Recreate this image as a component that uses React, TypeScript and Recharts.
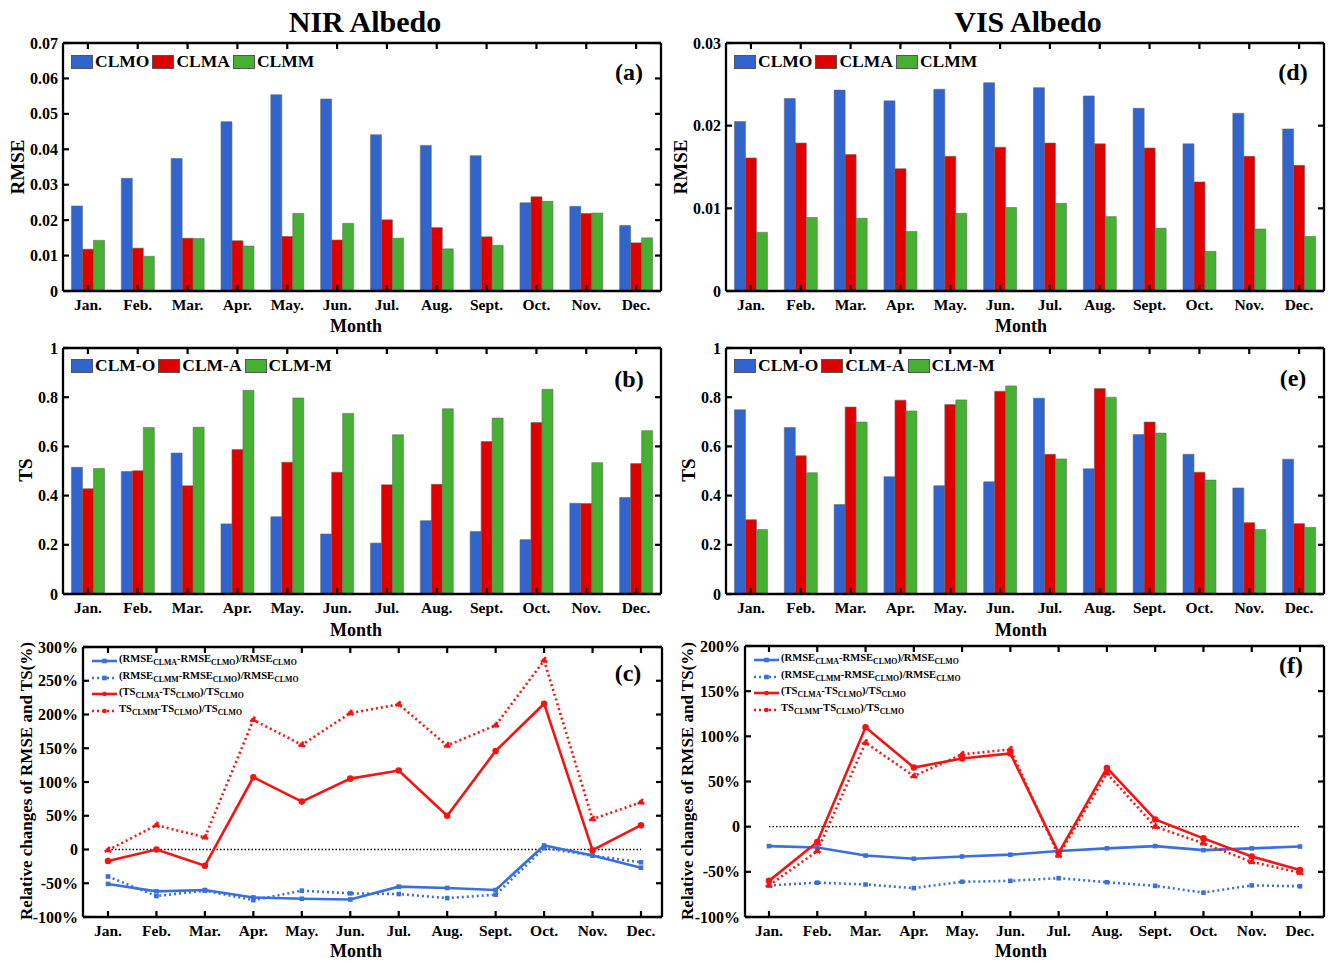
import React from 'react';
import { BarChart, Bar, LineChart, Line, XAxis, YAxis, ReferenceLine } from 'recharts';

const FONT = '"Liberation Serif","Times New Roman",Times,serif';

const months = ['Jan.', 'Feb.', 'Mar.', 'Apr.', 'May.', 'Jun.', 'Jul.', 'Aug.', 'Sept.', 'Oct.', 'Nov.', 'Dec.'];

// (a) NIR RMSE
const nirRmseClmo = [0.0240, 0.0318, 0.0374, 0.0478, 0.0554, 0.0542, 0.0441, 0.0411, 0.0382, 0.0249, 0.0239, 0.0185];
const nirRmseClma = [0.0118, 0.0121, 0.0149, 0.0142, 0.0154, 0.0144, 0.0201, 0.0179, 0.0153, 0.0266, 0.0219, 0.0136];
const nirRmseClmm = [0.0143, 0.0098, 0.0148, 0.0127, 0.0219, 0.0191, 0.0149, 0.0119, 0.0129, 0.0253, 0.0220, 0.0150];
// (d) VIS RMSE
const visRmseClmo = [0.0205, 0.0233, 0.0243, 0.0230, 0.0244, 0.0252, 0.0246, 0.0236, 0.0221, 0.0178, 0.0215, 0.0196];
const visRmseClma = [0.0161, 0.0179, 0.0165, 0.0148, 0.0163, 0.0174, 0.0179, 0.0178, 0.0173, 0.0132, 0.0163, 0.0152];
const visRmseClmm = [0.0071, 0.0089, 0.0088, 0.0072, 0.0094, 0.0101, 0.0106, 0.0090, 0.0076, 0.0048, 0.0075, 0.0066];
// (b) NIR TS
const nirTsO = [0.515, 0.498, 0.573, 0.285, 0.314, 0.244, 0.207, 0.298, 0.254, 0.221, 0.369, 0.392];
const nirTsA = [0.428, 0.501, 0.440, 0.587, 0.536, 0.495, 0.444, 0.446, 0.620, 0.697, 0.368, 0.530];
const nirTsM = [0.510, 0.677, 0.678, 0.828, 0.797, 0.734, 0.647, 0.753, 0.715, 0.832, 0.534, 0.664];
// (e) VIS TS
const visTsO = [0.749, 0.677, 0.364, 0.477, 0.440, 0.456, 0.796, 0.509, 0.648, 0.568, 0.431, 0.548];
const visTsA = [0.302, 0.562, 0.760, 0.788, 0.770, 0.824, 0.568, 0.835, 0.699, 0.495, 0.290, 0.286];
const visTsM = [0.262, 0.493, 0.699, 0.744, 0.789, 0.846, 0.549, 0.800, 0.654, 0.463, 0.262, 0.271];
// (c) NIR relative changes (%)
const nirRelRmseA = [-51, -62, -60, -71, -73, -74, -55, -57, -60, 6, -9, -27];
const nirRelRmseM = [-40, -69, -61, -75, -61, -65, -66, -72, -67, 2, -9, -19];
const nirRelTsA = [-17, 0, -24, 107, 71, 105, 117, 50, 146, 216, -1, 36];
const nirRelTsM = [-1, 36, 18, 192, 155, 202, 215, 154, 184, 280, 45, 70];
// (f) VIS relative changes (%)
const visRelRmseA = [-21.5, -23, -32, -35.5, -33, -31, -27, -24, -21.5, -26, -24, -22];
const visRelRmseM = [-65, -62, -64, -68, -61, -60, -57, -61.5, -65.5, -73, -65, -66];
const visRelTsA = [-60, -17, 110, 65.5, 75.5, 81, -29, 65, 8, -13, -33, -48];
const visRelTsM = [-65, -27, 93, 56, 80, 85.5, -32, 59, 0, -18.5, -39, -51];

const rmseNirTicks = [0, 0.01, 0.02, 0.03, 0.04, 0.05, 0.06, 0.07];
const rmseVisTicks = [0, 0.01, 0.02, 0.03];
const tsTicks = [0, 0.2, 0.4, 0.6, 0.8, 1];
const relNirTicks = [-100, -50, 0, 50, 100, 150, 200, 250, 300];
const relVisTicks = [-100, -50, 0, 50, 100, 150, 200];

const rmseNames = ['CLMO', 'CLMA', 'CLMM'];
const tsNames = ['CLM-O', 'CLM-A', 'CLM-M'];

const BLUE = '#3164CD';
const RED = '#DE0000';
const GREEN = '#45B032';
const LBLUE = '#3A6FDC';
const LRED = '#F41414';
const barColors = [BLUE, RED, GREEN];

const fmtRmse = (v: number) => (v === 0 ? '0' : v.toFixed(2));
const fmtTs = (v: number) => (v === 0 ? '0' : v === 1 ? '1' : v.toFixed(1));
const fmtRel = (v: number) => (v === 0 ? '0' : `${v}%`);

const makeBars = (a: number[], b: number[], c: number[]) =>
  months.map((m, i) => ({ month: m, s0: a[i], s1: b[i], s2: c[i] }));
const makeLines = (a: number[], b: number[], c: number[], d: number[]) =>
  months.map((m, i) => ({ month: m, rA: a[i], rM: b[i], tA: c[i], tM: d[i] }));

const bottomTick = (props: any) => {
  const { x, y, payload } = props;
  return (
    <g>
      <line x1={x} x2={x} y1={y} y2={y - 6} stroke="#000" strokeWidth={2.2} />
      <text x={x} y={y + 19} textAnchor="middle" fontFamily={FONT} fontWeight="bold" fontSize={15.5} fill="#000">
        {payload.value}
      </text>
    </g>
  );
};
const topTick = (props: any) => {
  const { x, y } = props;
  return <line x1={x} x2={x} y1={y} y2={y + 6} stroke="#000" strokeWidth={2.2} />;
};
const makeLeftTick = (fmt: (v: number) => string) => (props: any) => {
  const { x, y, payload } = props;
  return (
    <g>
      <line x1={x} x2={x + 6} y1={y} y2={y} stroke="#000" strokeWidth={2.2} />
      <text x={x - 5} y={y} dy="0.35em" textAnchor="end" fontFamily={FONT} fontWeight="bold" fontSize={16} fill="#000">
        {fmt(payload.value)}
      </text>
    </g>
  );
};
const rightTick = (props: any) => {
  const { x, y } = props;
  return <line x1={x} x2={x - 6} y1={y} y2={y} stroke="#000" strokeWidth={2.2} />;
};

const squareDot = (color: string) => (p: any) => (
  <rect key={`sq-${p.index}`} x={p.cx - 2.3} y={p.cy - 2.3} width={4.6} height={4.6} fill={color} />
);

const axisLine = { stroke: '#000', strokeWidth: 2.3 };

type Plot = { x: number; y: number; w: number; h: number };

const ML = 80, MT = 20, MR = 20, MB = 50;
const chartMargin = { top: MT - 1, right: MR - 1, bottom: MB - 1, left: ML - 1 };

function BarPanel({ plot, data, domain, ticks, fmt }: { plot: Plot; data: any[]; domain: number[]; ticks: number[]; fmt: (v: number) => string }) {
  const W = plot.w + ML + MR;
  const H = plot.h + MT + MB;
  return (
    <div style={{ position: 'absolute', left: plot.x - ML, top: plot.y - MT, width: W, height: H }}>
      <BarChart width={W} height={H} data={data} margin={chartMargin} barCategoryGap="17%" barGap={0}>
        <XAxis dataKey="month" height={1} tickSize={0} tickMargin={0} tickLine={false} axisLine={axisLine} tick={bottomTick} interval={0} />
        <XAxis dataKey="month" xAxisId="top" orientation="top" height={1} tickSize={0} tickMargin={0} tickLine={false} axisLine={axisLine} tick={topTick} interval={0} />
        <YAxis domain={domain} ticks={ticks} width={1} tickSize={0} tickMargin={0} tickLine={false} axisLine={axisLine} tick={makeLeftTick(fmt)} interval={0} allowDataOverflow />
        <YAxis yAxisId="r" orientation="right" domain={domain} ticks={ticks} width={1} tickSize={0} tickMargin={0} tickLine={false} axisLine={axisLine} tick={rightTick} interval={0} allowDataOverflow />
        {['s0', 's1', 's2'].map((k, i) => (
          <Bar key={k} dataKey={k} fill={barColors[i]} stroke="#6a6a6a" strokeWidth={0.6} isAnimationActive={false} />
        ))}
      </BarChart>
    </div>
  );
}

function LinePanel({ plot, data, domain, ticks, pad }: { plot: Plot; data: any[]; domain: number[]; ticks: number[]; pad: { left: number; right: number } }) {
  const W = plot.w + ML + MR;
  const H = plot.h + MT + MB;
  const dotted = '2 3';
  return (
    <div style={{ position: 'absolute', left: plot.x - ML, top: plot.y - MT, width: W, height: H }}>
      <LineChart width={W} height={H} data={data} margin={chartMargin}>
        <XAxis dataKey="month" height={1} padding={pad} tickSize={0} tickMargin={0} tickLine={false} axisLine={axisLine} tick={bottomTick} interval={0} />
        <XAxis dataKey="month" xAxisId="top" orientation="top" padding={pad} height={1} tickSize={0} tickMargin={0} tickLine={false} axisLine={axisLine} tick={topTick} interval={0} />
        <YAxis domain={domain} ticks={ticks} width={1} tickSize={0} tickMargin={0} tickLine={false} axisLine={axisLine} tick={makeLeftTick(fmtRel)} interval={0} allowDataOverflow />
        <YAxis yAxisId="r" orientation="right" domain={domain} ticks={ticks} width={1} tickSize={0} tickMargin={0} tickLine={false} axisLine={axisLine} tick={rightTick} interval={0} allowDataOverflow />
        <ReferenceLine segment={[{ x: months[0], y: 0 }, { x: months[months.length - 1], y: 0 }]} stroke="#000" strokeWidth={1.3} strokeDasharray="1.5 2" />
        <Line dataKey="rA" stroke={LBLUE} strokeWidth={2.6} dot={squareDot(LBLUE)} isAnimationActive={false} />
        <Line dataKey="rM" stroke={LBLUE} strokeWidth={2.6} strokeDasharray={dotted} dot={squareDot(LBLUE)} isAnimationActive={false} />
        <Line dataKey="tA" stroke={LRED} strokeWidth={2.6} dot={{ r: 2, fill: LRED, stroke: LRED }} isAnimationActive={false} />
        <Line dataKey="tM" stroke={LRED} strokeWidth={2.6} strokeDasharray={dotted} dot={{ r: 2.4, fill: LRED, stroke: LRED }} isAnimationActive={false} />
      </LineChart>
    </div>
  );
}

const Txt = ({ x, y, size, rotate, children }: { x: number; y: number; size: number; rotate?: boolean; children: React.ReactNode }) => (
  <div
    style={{
      position: 'absolute',
      left: x,
      top: y,
      transform: `translate(-50%,-50%)${rotate ? ' rotate(-90deg)' : ''}`,
      fontFamily: FONT,
      fontWeight: 'bold',
      fontSize: size,
      whiteSpace: 'nowrap',
      lineHeight: 1,
      color: '#000',
    }}
  >
    {children}
  </div>
);

function BarLegend({ x, y, names }: { x: number; y: number; names: string[] }) {
  return (
    <div style={{ position: 'absolute', left: x, top: y, display: 'flex', alignItems: 'center', fontFamily: FONT, fontWeight: 'bold', fontSize: 17.5, lineHeight: 1 }}>
      {names.map((n, i) => (
        <div key={n} style={{ display: 'flex', alignItems: 'center', marginRight: 3 }}>
          <div style={{ width: 22, height: 14, background: barColors[i], border: '1px solid #555', boxSizing: 'border-box', marginRight: 2 }} />
          <span>{n}</span>
        </div>
      ))}
    </div>
  );
}

const S = ({ children }: { children: React.ReactNode }) => <span style={{ fontSize: 7.8, verticalAlign: -3 }}>{children}</span>;

const lineLegendItems = [
  { color: LBLUE, dash: false, sq: true, label: <>(RMSE<S>CLMA</S>-RMSE<S>CLMO</S>)/RMSE<S>CLMO</S></> },
  { color: LBLUE, dash: true, sq: true, label: <>(RMSE<S>CLMM</S>-RMSE<S>CLMO</S>)/RMSE<S>CLMO</S></> },
  { color: LRED, dash: false, sq: false, label: <>(TS<S>CLMA</S>-TS<S>CLMO</S>)/TS<S>CLMO</S></> },
  { color: LRED, dash: true, sq: false, label: <>TS<S>CLMM</S>-TS<S>CLMO</S>)/TS<S>CLMO</S></> },
];

function LineLegend({ x, y }: { x: number; y: number }) {
  return (
    <div style={{ position: 'absolute', left: x, top: y, fontFamily: FONT, fontWeight: 'bold', fontSize: 10.6, lineHeight: '16.5px' }}>
      {lineLegendItems.map((it, i) => (
        <div key={i} style={{ display: 'flex', alignItems: 'center', height: 16.5 }}>
          <svg width={25} height={8} style={{ marginRight: 2 }}>
            <line x1={0} x2={25} y1={4} y2={4} stroke={it.color} strokeWidth={2.6} strokeDasharray={it.dash ? '2 3' : undefined} />
            {it.sq ? <rect x={10.2} y={1.7} width={4.6} height={4.6} fill={it.color} /> : <circle cx={12.5} cy={4} r={2.3} fill={it.color} />}
          </svg>
          <span>{it.label}</span>
        </div>
      ))}
    </div>
  );
}

export default function App() {
  const pa: Plot = { x: 63, y: 43, w: 598, h: 248 };
  const pd: Plot = { x: 726, y: 43, w: 598, h: 248 };
  const pb: Plot = { x: 63, y: 348, w: 598, h: 246 };
  const pe: Plot = { x: 726, y: 348, w: 598, h: 246 };
  const pc: Plot = { x: 83, y: 647, w: 579, h: 270 };
  const pf: Plot = { x: 745, y: 646, w: 579, h: 271 };
  return (
    <div style={{ position: 'absolute', left: 0, top: 0, width: 1330, height: 962, background: '#fff', overflow: 'hidden' }}>
      <Txt x={365} y={22} size={30}>NIR Albedo</Txt>
      <Txt x={1028} y={22} size={30}>VIS Albedo</Txt>

      <BarPanel plot={pa} data={makeBars(nirRmseClmo, nirRmseClma, nirRmseClmm)} domain={[0, 0.07]} ticks={rmseNirTicks} fmt={fmtRmse} />
      <BarPanel plot={pd} data={makeBars(visRmseClmo, visRmseClma, visRmseClmm)} domain={[0, 0.03]} ticks={rmseVisTicks} fmt={fmtRmse} />
      <BarPanel plot={pb} data={makeBars(nirTsO, nirTsA, nirTsM)} domain={[0, 1]} ticks={tsTicks} fmt={fmtTs} />
      <BarPanel plot={pe} data={makeBars(visTsO, visTsA, visTsM)} domain={[0, 1]} ticks={tsTicks} fmt={fmtTs} />
      <LinePanel plot={pc} data={makeLines(nirRelRmseA, nirRelRmseM, nirRelTsA, nirRelTsM)} domain={[-100, 300]} ticks={relNirTicks} pad={{ left: 25, right: 21 }} />
      <LinePanel plot={pf} data={makeLines(visRelRmseA, visRelRmseM, visRelTsA, visRelTsM)} domain={[-100, 200]} ticks={relVisTicks} pad={{ left: 24, right: 24 }} />

      <BarLegend x={71} y={53} names={rmseNames} />
      <BarLegend x={734} y={53} names={rmseNames} />
      <BarLegend x={71} y={357} names={tsNames} />
      <BarLegend x={734} y={357} names={tsNames} />
      <LineLegend x={92} y={653} />
      <LineLegend x={754} y={652} />

      <Txt x={629} y={72} size={24}>(a)</Txt>
      <Txt x={1293} y={72} size={24}>(d)</Txt>
      <Txt x={629} y={379} size={24}>(b)</Txt>
      <Txt x={1293} y={378} size={24}>(e)</Txt>
      <Txt x={628} y={673} size={24}>(c)</Txt>
      <Txt x={1291} y={665} size={24}>(f)</Txt>

      <Txt x={356} y={326} size={18}>Month</Txt>
      <Txt x={1021} y={326} size={18}>Month</Txt>
      <Txt x={356} y={630} size={18}>Month</Txt>
      <Txt x={1021} y={630} size={18}>Month</Txt>
      <Txt x={356} y={951} size={18}>Month</Txt>
      <Txt x={1021} y={951} size={18}>Month</Txt>

      <Txt x={17} y={167} size={19} rotate>RMSE</Txt>
      <Txt x={680} y={167} size={19} rotate>RMSE</Txt>
      <Txt x={25} y={470} size={19} rotate>TS</Txt>
      <Txt x={688} y={470} size={19} rotate>TS</Txt>
      <Txt x={26} y={781} size={17} rotate>Relative changes of RMSE and TS(%)</Txt>
      <Txt x={687} y={781} size={17} rotate>Relative changes of RMSE and TS(%)</Txt>
    </div>
  );
}
